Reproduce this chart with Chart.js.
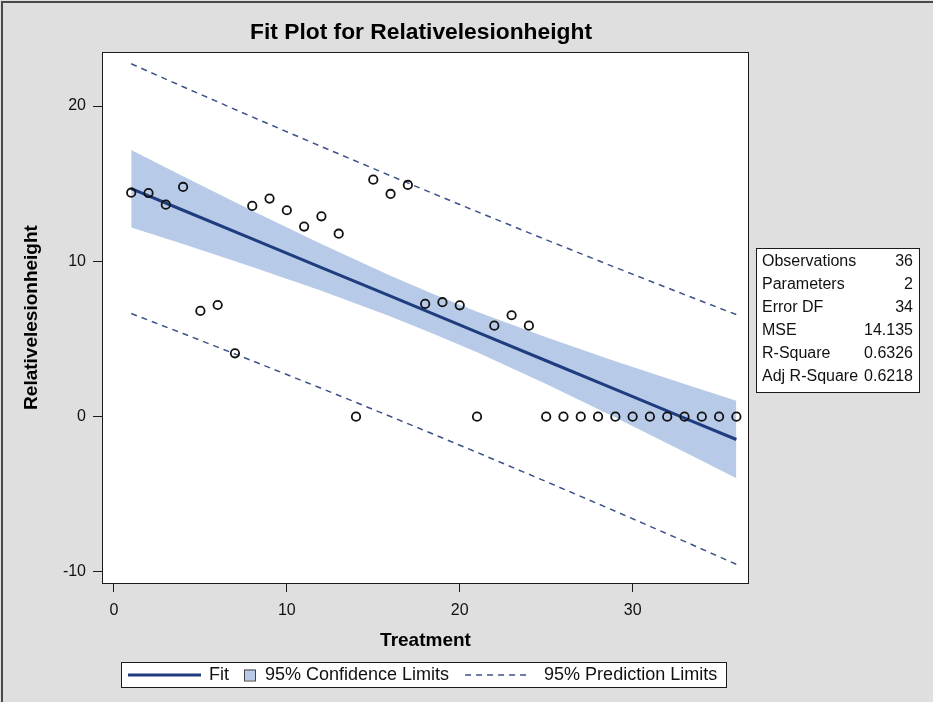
<!DOCTYPE html>
<html>
<head>
<meta charset="utf-8">
<script src="https://cdn.jsdelivr.net/npm/chart.js@4.4.1/dist/chart.umd.min.js"></script>
<style>
  html, body { margin: 0; padding: 0; background: #dfdfdf; }
  #wrap { width: 933px; height: 702px; position: relative; }
</style>
</head>
<body>
<div id="wrap"><canvas id="fitPlot"></canvas></div>
<script>
// Observed data
const treatment = [1, 2, 3, 4, 5, 6, 7, 8, 9, 10, 11, 12, 13, 14, 15, 16, 17, 18,
                   19, 20, 21, 22, 23, 24, 25, 26, 27, 28, 29, 30, 31, 32, 33, 34, 35, 36];
const relHeight = [14.42, 14.40, 13.65, 14.79, 6.81, 7.19, 4.08, 13.57, 14.04, 13.29, 12.24, 12.90,
                   11.78, 0, 15.26, 14.34, 14.92, 7.26, 7.37, 7.17, 0, 5.86, 6.53, 5.86,
                   0, 0, 0, 0, 0, 0, 0, 0, 0, 0, 0, 0];

// Fitted line with 95% confidence and prediction limits
const curveX  = [1, 4, 8, 12, 16, 18.5, 21, 25, 29, 33, 36];
const fitY    = [14.68, 13.29, 11.45, 9.60, 7.76, 6.60, 5.45, 3.60, 1.76, -0.09, -1.47];
const lowerCL = [12.18, 11.11, 9.64, 8.10, 6.45, 5.33, 4.14, 2.10, -0.05, -2.27, -3.97];
const upperCL = [17.17, 15.48, 13.26, 11.11, 9.07, 7.88, 6.76, 5.11, 3.57, 2.10, 1.02];
const lowerPL = [6.64, 5.35, 3.60, 1.82, 0.01, -1.14, -2.30, -4.18, -6.09, -8.03, -9.51];
const upperPL = [22.72, 21.24, 19.30, 17.39, 15.51, 14.35, 13.20, 11.39, 9.61, 7.86, 6.57];

// Axis ticks
const xTicks = [0, 10, 20, 30];
const yTicks = [-10, 0, 10, 20];

// Fit statistics
const statLabels = ['Observations', 'Parameters', 'Error DF', 'MSE', 'R-Square', 'Adj R-Square'];
const statValues = ['36', '2', '34', '14.135', '0.6326', '0.6218'];

// Legend entries
const legendLabels = ['Fit', '95% Confidence Limits', '95% Prediction Limits'];

const FONT = '"Liberation Sans", Arial, Helvetica, sans-serif';
const FIT_COLOR = '#1f3d7e';
const BAND_COLOR = '#b7cbe8';
const PRED_COLOR = '#3d5288';
const PRED_DASH = [6, 5];

const pts = (xs, ys) => xs.map((x, i) => ({ x: x, y: ys[i] }));

const sheet = {
  id: 'sheet',
  beforeDraw(chart) {
    const { ctx, chartArea: a, width, height } = chart;
    ctx.save();
    ctx.fillStyle = '#dfdfdf';
    ctx.fillRect(0, 0, width, height);
    ctx.fillStyle = '#ffffff';
    ctx.fillRect(a.left, a.top, a.right - a.left, a.bottom - a.top);
    ctx.strokeStyle = '#4a4a4a';
    ctx.lineWidth = 2;
    ctx.beginPath();
    ctx.moveTo(2, height);
    ctx.lineTo(2, 2);
    ctx.lineTo(width, 2);
    ctx.stroke();
    ctx.restore();
  },
  afterDraw(chart) {
    const { ctx, chartArea: a } = chart;
    ctx.save();

    // plot frame
    ctx.strokeStyle = '#1a1a1a';
    ctx.lineWidth = 1;
    ctx.strokeRect(a.left + 0.5, a.top + 0.5, a.right - a.left - 1, a.bottom - a.top);

    // title
    ctx.fillStyle = '#000';
    ctx.font = 'bold 22.8px ' + FONT;
    ctx.textAlign = 'center';
    ctx.textBaseline = 'middle';
    ctx.fillText('Fit Plot for Relativelesionheight', 421, 33);

    // statistics inset
    const sx = 756, sy = 248, sw = 163, sh = 144;
    ctx.fillStyle = '#fff';
    ctx.fillRect(sx, sy, sw, sh);
    ctx.strokeStyle = '#1a1a1a';
    ctx.strokeRect(sx + 0.5, sy + 0.5, sw, sh);
    ctx.font = '16px ' + FONT;
    ctx.fillStyle = '#111';
    statLabels.forEach((lab, i) => {
      const y = 262 + i * 23;
      ctx.textAlign = 'left';
      ctx.fillText(lab, sx + 6, y);
      ctx.textAlign = 'right';
      ctx.fillText(statValues[i], sx + sw - 6, y);
    });

    // legend
    const lx = 121, ly = 662, lw = 605, lh = 25, cy = 675;
    ctx.fillStyle = '#fff';
    ctx.fillRect(lx, ly, lw, lh);
    ctx.strokeStyle = '#1a1a1a';
    ctx.strokeRect(lx + 0.5, ly + 0.5, lw, lh);
    ctx.font = '18px ' + FONT;
    ctx.textAlign = 'left';
    ctx.fillStyle = '#111';

    let x = 128;
    ctx.strokeStyle = FIT_COLOR;
    ctx.lineWidth = 3;
    ctx.beginPath(); ctx.moveTo(x, cy); ctx.lineTo(x + 73, cy); ctx.stroke();
    x += 81;
    ctx.fillText(legendLabels[0], x, cy);
    x += ctx.measureText(legendLabels[0]).width + 15;

    ctx.fillStyle = BAND_COLOR;
    ctx.fillRect(x, cy - 5.5, 11, 11);
    ctx.strokeStyle = '#444';
    ctx.lineWidth = 1;
    ctx.strokeRect(x + 0.5, cy - 5.5 + 0.5, 11, 11);
    x += 21;
    ctx.fillStyle = '#111';
    ctx.fillText(legendLabels[1], x, cy);
    x += ctx.measureText(legendLabels[1]).width + 16;

    ctx.strokeStyle = PRED_COLOR;
    ctx.lineWidth = 1.5;
    ctx.setLineDash(PRED_DASH);
    ctx.beginPath(); ctx.moveTo(x, cy); ctx.lineTo(x + 64, cy); ctx.stroke();
    ctx.setLineDash([]);
    x += 79;
    ctx.fillText(legendLabels[2], x, cy);

    ctx.restore();
  }
};

new Chart(document.getElementById('fitPlot'), {
  type: 'line',
  data: {
    datasets: [
      {
        label: 'Relativelesionheight',
        data: pts(treatment, relHeight),
        showLine: false,
        pointStyle: 'circle',
        pointRadius: 4.2,
        pointBorderWidth: 1.8,
        pointBorderColor: '#111',
        pointBackgroundColor: 'rgba(0,0,0,0)',
        order: 0
      },
      {
        label: 'Fit',
        data: pts(curveX, fitY),
        borderColor: FIT_COLOR,
        borderWidth: 3,
        pointRadius: 0,
        fill: false,
        order: 1
      },
      {
        label: 'Upper 95% Prediction Limit',
        data: pts(curveX, upperPL),
        borderColor: PRED_COLOR,
        borderWidth: 1.5,
        borderDash: PRED_DASH,
        pointRadius: 0,
        fill: false,
        order: 2
      },
      {
        label: 'Lower 95% Prediction Limit',
        data: pts(curveX, lowerPL),
        borderColor: PRED_COLOR,
        borderWidth: 1.5,
        borderDash: PRED_DASH,
        pointRadius: 0,
        fill: false,
        order: 3
      },
      {
        label: 'Upper 95% Confidence Limit',
        data: pts(curveX, upperCL),
        borderWidth: 0,
        borderColor: 'rgba(0,0,0,0)',
        backgroundColor: BAND_COLOR,
        pointRadius: 0,
        fill: '+1',
        order: 4
      },
      {
        label: 'Lower 95% Confidence Limit',
        data: pts(curveX, lowerCL),
        borderWidth: 0,
        borderColor: 'rgba(0,0,0,0)',
        backgroundColor: BAND_COLOR,
        pointRadius: 0,
        fill: false,
        order: 5
      }
    ]
  },
  options: {
    responsive: true,
    maintainAspectRatio: false,
    animation: false,
    events: [],
    layout: { padding: { top: 52, right: 184, bottom: 0, left: 0 } },
    plugins: {
      legend: { display: false },
      title: { display: false },
      tooltip: { enabled: false }
    },
    scales: {
      x: {
        type: 'linear',
        min: -0.69,
        max: 36.73,
        border: { display: false },
        grid: { drawOnChartArea: false, drawTicks: true, tickLength: 9, color: '#1a1a1a', lineWidth: 1 },
        afterBuildTicks: s => { s.ticks = xTicks.map(v => ({ value: v })); },
        afterFit: s => { s.height = 119; },
        ticks: { color: '#111', font: { family: FONT, size: 16 }, padding: 9, maxRotation: 0 },
        title: {
          display: true,
          text: 'Treatment',
          color: '#000',
          font: { family: FONT, size: 19, weight: 'bold' },
          padding: { top: 0, bottom: 50 }
        }
      },
      y: {
        type: 'linear',
        min: -10.71,
        max: 23.48,
        border: { display: false },
        grid: { drawOnChartArea: false, drawTicks: true, tickLength: 9, color: '#1a1a1a', lineWidth: 1 },
        afterBuildTicks: s => { s.ticks = yTicks.map(v => ({ value: v })); },
        afterFit: s => { s.width = 102; },
        ticks: { color: '#111', font: { family: FONT, size: 16 }, padding: 7 },
        title: {
          display: true,
          text: 'Relativelesionheight',
          color: '#000',
          font: { family: FONT, size: 19, weight: 'bold' },
          padding: { top: 20, bottom: 0 }
        }
      }
    }
  },
  plugins: [sheet]
});
</script>
</body>
</html>
